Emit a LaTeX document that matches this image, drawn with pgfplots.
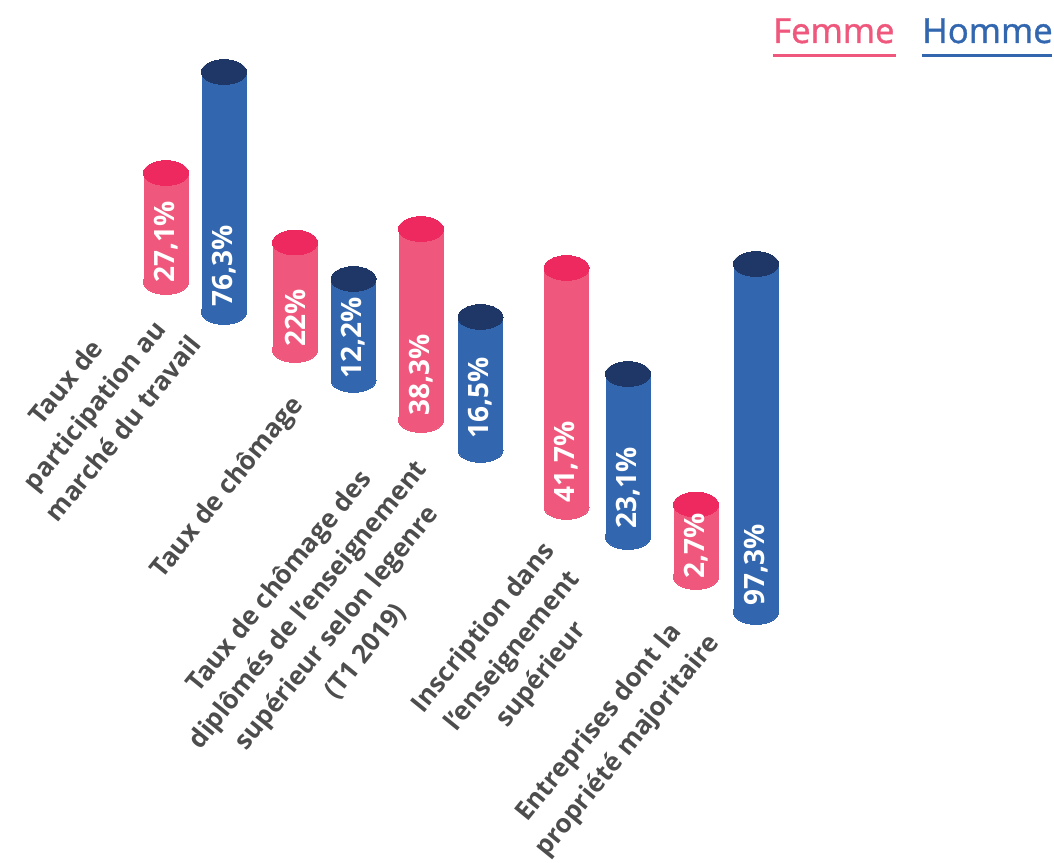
\documentclass[border=0pt]{standalone}
\usepackage{fontspec}
\setmainfont{Open Sans}
\newfontfamily\legfont{Open Sans}[FakeBold=1.2]
\usepackage{pgfplots}
\pgfplotsset{compat=1.18}
\usepackage{pgfplotstable}
\definecolor{fbody}{HTML}{EF587C}
\definecolor{ftop}{HTML}{EE2960}
\definecolor{hbody}{HTML}{3267B0}
\definecolor{htop}{HTML}{1E3766}
\definecolor{lab}{HTML}{4D4D4D}
% geometry in pixels: x = bar centre, top/bot = cap centres, ly = label centre, val = value (%)
\pgfplotstableread{
x     top    bot   ly    val
166   173    282   242   27.1
295   242.5  350   318   22
421   229    420   375   38.3
566.5 268    507   462   41.7
696   504.5  577   546   2.7
}\femme
\pgfplotstableread{
x     top    bot   ly    val
224   72     312   266   76.3
353.5 279    380   338   12.2
480.5 317    450   398   16.5
628   374    537   488   23.1
756   264    612   565   97.3
}\homme
\begin{document}
\begin{tikzpicture}
\begin{axis}[
  x=0.75pt, y=0.75pt,
  xmin=0, xmax=1054, ymin=0, ymax=863,
  y dir=reverse,
  hide axis, clip=false,
  cylbody/.style={mark=none, line width=33.75pt, line cap=butt,
     quiver={u=0, v=\thisrow{bot}-\thisrow{top}}},
  cap/.style={only marks, mark=*, color=#1, mark size=16.875pt,
     mark options={yscale=0.55, draw=#1, fill=#1, line width=0pt}},
  vals/.style={draw=none, mark=none,
     point meta=\thisrow{val},
     nodes near coords={\pgfmathprintnumber[use comma,fixed,precision=1,assume math mode=true]{\pgfplotspointmeta}\%},
     every node near coord/.append style={anchor=center, rotate=90, text=white,
        font=\fontsize{21}{25}\selectfont\bfseries, inner sep=0pt}},
]
% Femme
\addplot[draw=fbody, cylbody] table[x=x, y=top] {\femme};
\addplot[cap=fbody] table[x=x, y=bot] {\femme};
\addplot[cap=ftop] table[x=x, y=top] {\femme};
\addplot[vals] table[x=x, y=ly] {\femme};
% Homme
\addplot[draw=hbody, cylbody] table[x=x, y=top] {\homme};
\addplot[cap=hbody] table[x=x, y=bot] {\homme};
\addplot[cap=htop] table[x=x, y=top] {\homme};
\addplot[vals] table[x=x, y=ly] {\homme};

% category labels
\begin{scope}[every node/.style={rotate=51, align=center, text=lab,
    font=\fontsize{19.5}{27.75}\selectfont\bfseries, inner sep=0pt}]
\node at (axis cs:94,405) {Taux de\\participation au\\marché du travail};
\node at (axis cs:228,488) {Taux de chômage};
\node at (axis cs:322.5,616.5) {Taux de chômage des\\diplômés de l’enseignement\\supérieur selon legenre\\(T1 2019)};
\node at (axis cs:513,652) {Inscription dans\\l'enseignement\\supérieur};
\node at (axis cs:614,735) {Entreprises dont la\\propriété majoritaire};
\end{scope}

% legend
\node[anchor=base west, inner sep=0pt, text=fbody, font=\legfont\fontsize{26}{30}\selectfont] at (axis cs:773,43) {Femme};
\node[anchor=base west, inner sep=0pt, text=hbody, font=\legfont\fontsize{26}{30}\selectfont] at (axis cs:922,43) {Homme};
\draw[fbody, line width=2.25pt] (axis cs:773,56) -- (axis cs:896,56);
\draw[hbody, line width=2.25pt] (axis cs:922,56) -- (axis cs:1052,56);
\end{axis}
\pgfresetboundingbox
\useasboundingbox (current axis.south west) rectangle (current axis.north east);
\end{tikzpicture}
\end{document}
